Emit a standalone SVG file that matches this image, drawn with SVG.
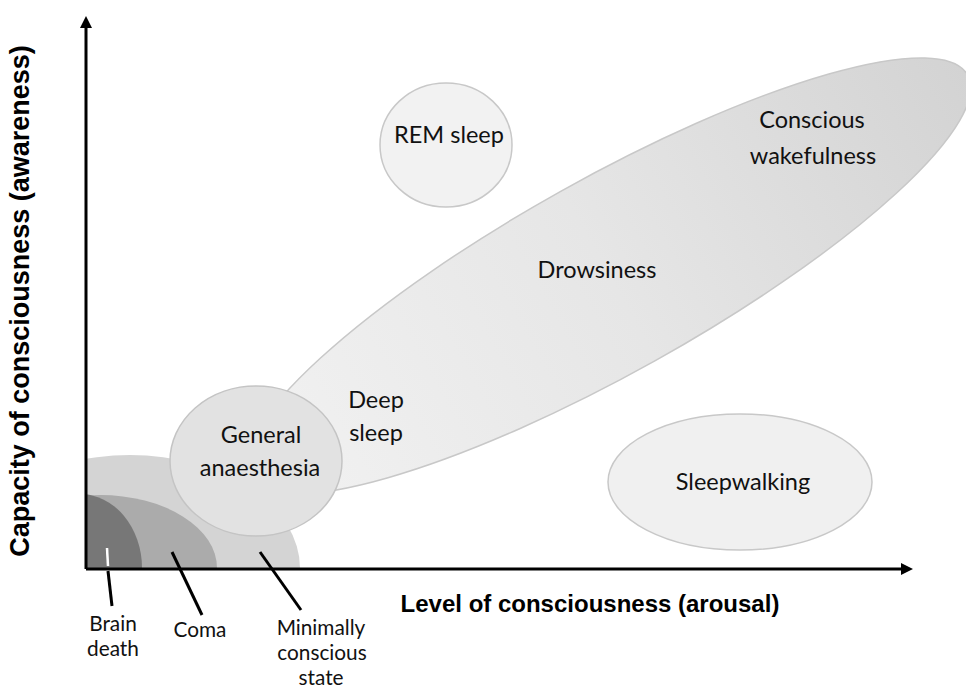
<svg xmlns="http://www.w3.org/2000/svg" width="966" height="690" viewBox="0 0 966 690">
<style>
.lbl{font-family:Lato,"Open Sans",sans-serif;font-size:23.5px;fill:#111;text-anchor:middle}
.sm{font-size:20.8px}
.axl{font-family:"Liberation Sans",Arial,sans-serif;font-weight:bold;fill:#000;text-anchor:middle}
.ax{stroke:#000;stroke-width:3;fill:none}
.lead{stroke:#000;stroke-width:3;stroke-linecap:butt}
</style>
<defs>
<linearGradient id="gBig" x1="0" y1="0" x2="1" y2="0">
<stop offset="0" stop-color="#f2f2f2"/>
<stop offset="0.5" stop-color="#e6e6e6"/>
<stop offset="1" stop-color="#d3d3d3"/>
</linearGradient>
<clipPath id="q1"><rect x="86" y="0" width="880" height="568"/></clipPath>
<clipPath id="win"><rect x="0" y="0" width="966" height="690"/></clipPath>
<marker id="arr" markerWidth="12" markerHeight="12" refX="4" refY="6" orient="auto" markerUnits="userSpaceOnUse" viewBox="0 0 12 12">
<path d="M0,0 L12,6 L0,12 Z" fill="#000"/>
</marker>
</defs>
<rect width="966" height="690" fill="#fff"/>
<g id="conscious-wakefulness" clip-path="url(#win)">
<ellipse cx="608" cy="276" rx="412" ry="97" transform="rotate(-29.2 608 276)" fill="url(#gBig)" stroke="#c8c8c8" stroke-width="1.5"/>
<text class="lbl" x="812" y="128">Conscious</text>
<text class="lbl" x="813" y="164">wakefulness</text>
</g>
<g id="drowsiness"><text class="lbl" x="597" y="278">Drowsiness</text></g>
<g id="deep-sleep"><text class="lbl" x="376" y="408">Deep</text><text class="lbl" x="376" y="441">sleep</text></g>
<g id="rem-sleep">
<ellipse cx="446" cy="145" rx="66" ry="62" fill="#f2f2f2" stroke="#c8c8c8" stroke-width="1.5"/>
<text class="lbl" x="449" y="143">REM sleep</text>
</g>
<g id="sleepwalking">
<ellipse cx="740" cy="482" rx="132" ry="68" fill="#f0f0f0" stroke="#c8c8c8" stroke-width="1.5"/>
<text class="lbl" x="743" y="490">Sleepwalking</text>
</g>
<g id="minimally-conscious-state" clip-path="url(#q1)">
<ellipse cx="130" cy="568" rx="170" ry="113" fill="#d4d4d4"/>
</g>
<g id="coma" clip-path="url(#q1)">
<ellipse cx="100" cy="568" rx="117" ry="73" fill="#ababab"/>
</g>
<g id="brain-death" clip-path="url(#q1)">
<ellipse cx="80" cy="568" rx="62" ry="74" fill="#777777"/>
</g>
<g id="general-anaesthesia">
<ellipse cx="256" cy="461" rx="86" ry="75" fill="#e2e2e2" stroke="#c4c4c4" stroke-width="1.5"/>
<text class="lbl" x="261" y="443">General</text>
<text class="lbl" x="260" y="476">anaesthesia</text>
</g>
<g id="connectors">
<line class="ax" x1="86" y1="569" x2="86" y2="24" marker-end="url(#arr)"/>
<line class="ax" x1="86" y1="569" x2="905" y2="569" marker-end="url(#arr)"/>
<line x1="107" y1="548" x2="108" y2="566" stroke="#fff" stroke-width="2.5"/>
<line class="lead" x1="108" y1="571" x2="112" y2="606"/>
<line class="lead" x1="172" y1="552" x2="202" y2="615"/>
<line class="lead" x1="260" y1="552" x2="301" y2="610"/>
</g>
<g id="labels">
<text class="lbl sm" x="113" y="631">Brain</text>
<text class="lbl sm" x="113" y="656">death</text>
<text class="lbl sm" x="200" y="637">Coma</text>
<text class="lbl sm" x="321" y="635">Minimally</text>
<text class="lbl sm" x="322" y="660">conscious</text>
<text class="lbl sm" x="321" y="685">state</text>
<text class="axl" x="590" y="612" font-size="24">Level of consciousness (arousal)</text>
<text class="axl" transform="translate(29 301) rotate(-90)" font-size="27">Capacity of consciousness (awareness)</text>
</g>
</svg>
